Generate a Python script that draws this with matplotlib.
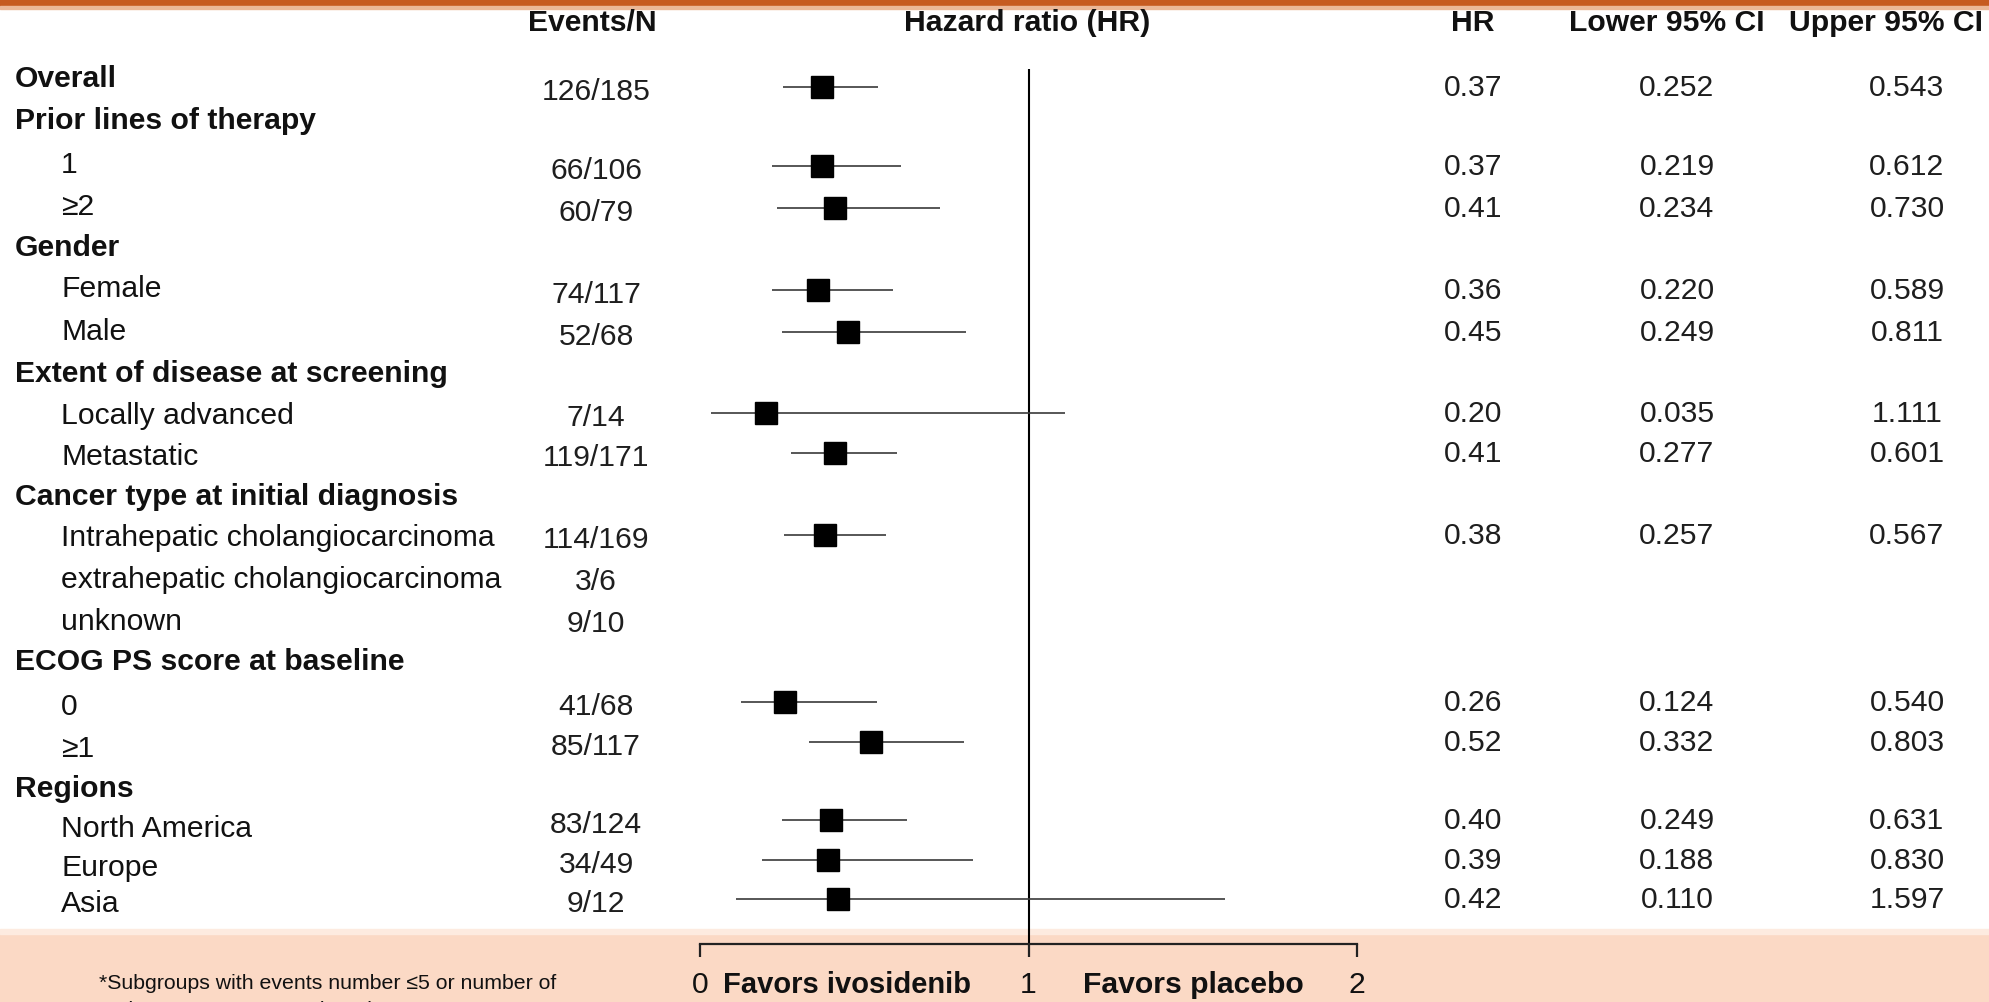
import matplotlib
matplotlib.use("Agg")
import matplotlib.pyplot as plt
from matplotlib.patches import Rectangle

plt.rcParams['font.family'] = ['Liberation Sans', 'DejaVu Sans']

# ---------------- data ----------------
labels = ["Overall", "Prior lines of therapy", "1", "\u22652", "Gender", "Female", "Male",
          "Extent of disease at screening", "Locally advanced", "Metastatic",
          "Cancer type at initial diagnosis", "Intrahepatic cholangiocarcinoma",
          "extrahepatic cholangiocarcinoma", "unknown", "ECOG PS score at baseline",
          "0", "\u22651", "Regions", "North America", "Europe", "Asia"]
is_header = [True, True, False, False, True, False, False,
             True, False, False,
             True, False, False, False, True,
             False, False, True, False, False, False]
events = ["126/185", "", "66/106", "60/79", "", "74/117", "52/68",
          "", "7/14", "119/171",
          "", "114/169", "3/6", "9/10", "",
          "41/68", "85/117", "", "83/124", "34/49", "9/12"]
hr = [0.37, None, 0.37, 0.41, None, 0.36, 0.45,
      None, 0.20, 0.41,
      None, 0.38, None, None, None,
      0.26, 0.52, None, 0.40, 0.39, 0.42]
lower = [0.252, None, 0.219, 0.234, None, 0.220, 0.249,
         None, 0.035, 0.277,
         None, 0.257, None, None, None,
         0.124, 0.332, None, 0.249, 0.188, 0.110]
upper = [0.543, None, 0.612, 0.730, None, 0.589, 0.811,
         None, 1.111, 0.601,
         None, 0.567, None, None, None,
         0.540, 0.803, None, 0.631, 0.830, 1.597]
col_headers = ["Events/N", "Hazard ratio (HR)", "HR", "Lower 95% CI", "Upper 95% CI"]
x_ticks = [0, 1, 2]
favors_left = "Favors ivosidenib"
favors_right = "Favors placebo"
footnote = ["*Subgroups with events number \u22645 or number of",
            "patients \u226410 were not plotted"]

# ---------------- layout (pixel rows) ----------------
label_y = [79, 121, 165, 207, 248, 289, 332, 374, 416, 457, 497, 538, 580, 622, 662,
           707, 749, 789, 829, 868, 904]
value_y = [90, 121, 169, 211, 248, 293, 335, 374, 416, 456, 497, 538, 580, 622, 662,
           705, 745, 789, 823, 863, 902]

W, H = 1990, 1003
fig = plt.figure(figsize=(W / 100, H / 100), dpi=100)
bg = fig.add_axes([0, 0, 1, 1])
bg.set_xlim(0, W)
bg.set_ylim(H, 0)
bg.axis("off")

# top orange band and bottom peach band
bg.add_patch(Rectangle((0, 0), W, 7, color="#C65B20", zorder=0))
bg.add_patch(Rectangle((0, 7), W, 3, color="#EBB898", zorder=0))
bg.add_patch(Rectangle((0, 935), W, H - 935, color="#FBD9C5", zorder=0))
bg.add_patch(Rectangle((0, 930), W, 5, color="#FDEBE0", zorder=0))

FS = 21.7
txt_color = "#111111"
val_color = "#1e1e1e"

# column headers
hdr_y = 23
hdr_x = [592, 1027, 1473, 1667, 1886]
for hx, ht in zip(hdr_x, col_headers):
    bg.text(hx, hdr_y, ht, ha="center", va="center", fontsize=FS, fontweight="bold", color=txt_color)

for i, lab in enumerate(labels):
    y = label_y[i]
    if is_header[i]:
        bg.text(15, y, lab, ha="left", va="center", fontsize=FS, fontweight="bold", color=txt_color)
    else:
        bg.text(61, y, lab, ha="left", va="center", fontsize=FS, color=txt_color)
    vy = value_y[i]
    if events[i]:
        bg.text(596, vy + 2, events[i], ha="center", va="center", fontsize=FS, color=val_color)
    if hr[i] is not None:
        bg.text(1473, vy - 2, f"{hr[i]:.2f}", ha="center", va="center", fontsize=FS, color=val_color)
        bg.text(1677, vy - 2, f"{lower[i]:.3f}", ha="center", va="center", fontsize=FS, color=val_color)
        bg.text(1907, vy - 2, f"{upper[i]:.3f}", ha="center", va="center", fontsize=FS, color=val_color)

# ---------------- forest axes ----------------
x0, x2, yaxis = 700, 1357, 945
ax = fig.add_axes([x0 / W, (H - yaxis) / H, (x2 - x0) / W, yaxis / H])
ax.patch.set_alpha(0)
ax.set_xlim(0, 2)
ax.set_ylim(yaxis, 0)
for s in ["top", "left", "right"]:
    ax.spines[s].set_visible(False)
ax.spines["bottom"].set_linewidth(1.6)
ax.spines["bottom"].set_color("#222222")
ax.set_yticks([])
ax.set_xticks(x_ticks)
ax.set_xticklabels([str(t) for t in x_ticks])
ax.tick_params(axis="x", length=9.5, width=1.6, color="#222222", labelsize=FS, pad=9, labelcolor=txt_color)

ax.vlines(1, 70, yaxis, color="black", lw=1.5, zorder=2)

for i in range(len(labels)):
    if hr[i] is None:
        continue
    y = value_y[i] - 2
    ax.hlines(y, lower[i], upper[i], color="#3a3a3a", lw=1.2, zorder=3)
    ax.plot(hr[i], y, marker="s", ms=16.5, color="black", zorder=4)

# favors labels and footnote
bg.text(847, 985, favors_left, ha="center", va="center", fontsize=21, fontweight="bold", color=txt_color)
bg.text(1193, 985, favors_right, ha="center", va="center", fontsize=FS, fontweight="bold", color=txt_color)
bg.text(99, 984, footnote[0], ha="left", va="center", fontsize=15.3, color=txt_color)
bg.text(99, 1011, footnote[1], ha="left", va="center", fontsize=15.3, color=txt_color)

fig.savefig("out.png", dpi=100)
